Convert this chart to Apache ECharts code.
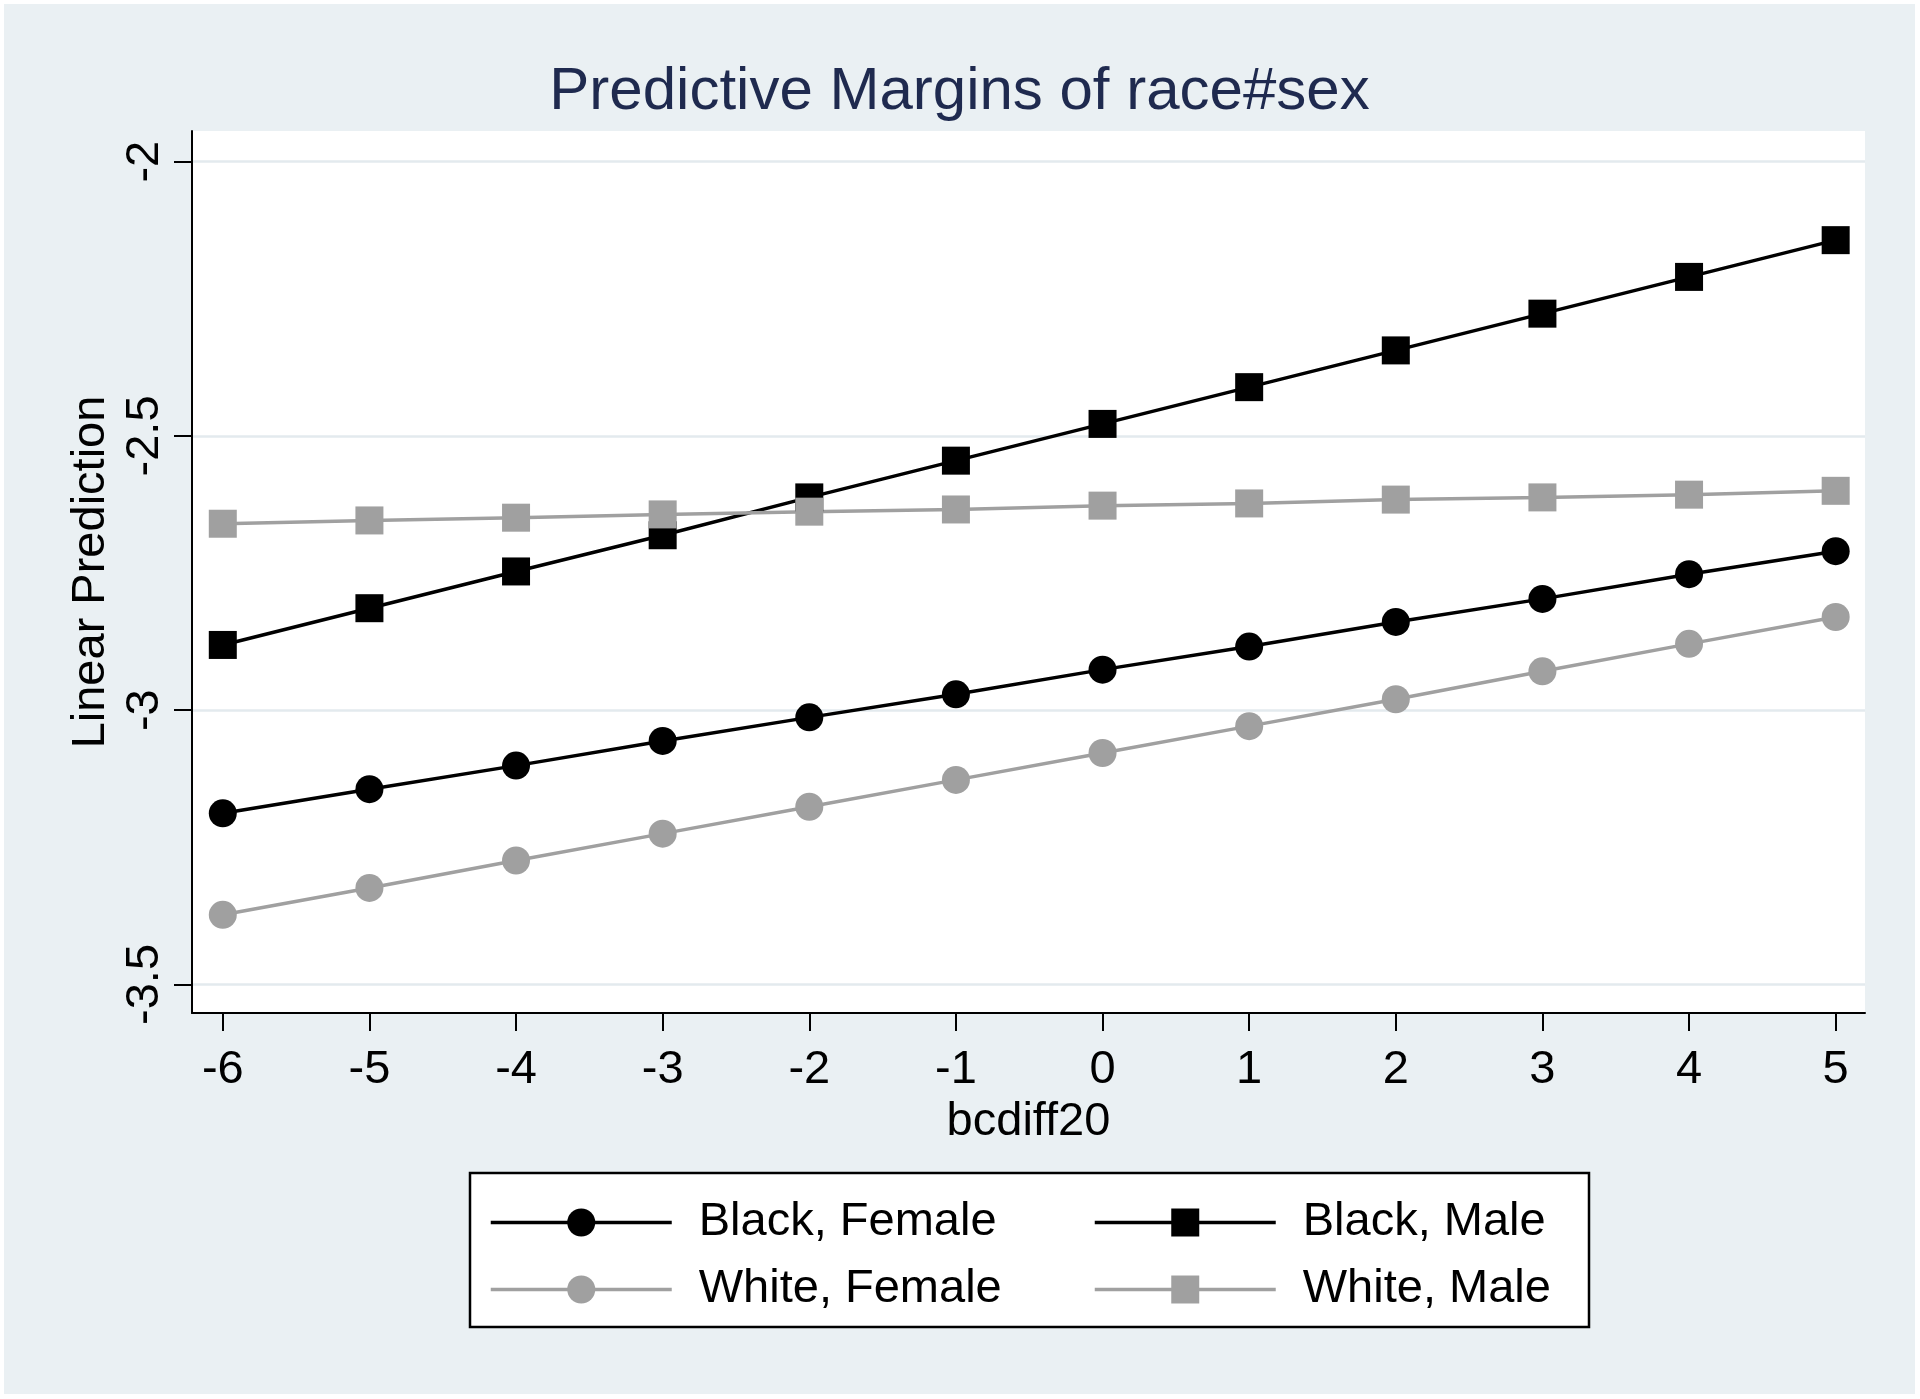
<!DOCTYPE html>
<html>
<head>
<meta charset="utf-8">
<script src="https://cdn.jsdelivr.net/npm/echarts@6/dist/echarts.min.js"></script>
<style>
  html, body { margin: 0; padding: 0; background: #ffffff; }
  #chart { position: absolute; left: 4px; top: 4px; width: 1911px; height: 1390px; }
</style>
</head>
<body>
<div id="chart"></div>
<script>
// ---- data ----
const bcdiff20 = [-6, -5, -4, -3, -2, -1, 0, 1, 2, 3, 4, 5];
const blackFemale = [-3.188, -3.144, -3.101, -3.056, -3.013, -2.971, -2.926, -2.884, -2.839, -2.797, -2.752, -2.710];
const blackMale   = [-2.881, -2.814, -2.747, -2.681, -2.612, -2.545, -2.478, -2.411, -2.344, -2.277, -2.210, -2.143];
const whiteFemale = [-3.373, -3.324, -3.274, -3.225, -3.176, -3.127, -3.078, -3.029, -2.980, -2.929, -2.879, -2.830];
const whiteMale   = [-2.660, -2.654, -2.649, -2.643, -2.638, -2.634, -2.627, -2.623, -2.616, -2.612, -2.607, -2.600];
const yTicks = [-3.5, -3, -2.5, -2];
const seriesNames = ['Black, Female', 'Black, Male', 'White, Female', 'White, Male'];

const FONT = "'Liberation Sans', Arial, Helvetica, sans-serif";
const BLACK = '#000000';
const GRAY = '#a0a0a0';
const BG = '#eaf0f3';
const GRID = '#e3eaee';
const LW = 3.5;

function pairs(vals) { return bcdiff20.map((x, i) => [x, vals[i]]); }

function lineSeries(name, vals, color, symbol) {
  return {
    name: name,
    type: 'line',
    data: pairs(vals),
    symbol: symbol,
    symbolSize: 28,
    showSymbol: true,
    lineStyle: { color: color, width: LW },
    itemStyle: { color: color },
    emphasis: { disabled: true },
    z: 3
  };
}

const chart = echarts.init(document.getElementById('chart'), null, { renderer: 'canvas' });

const legendCommon = {
  orient: 'vertical',
  top: 1195,
  padding: 0,
  itemWidth: 181,
  itemHeight: 35,
  itemGap: 20,
  selectedMode: false,
  lineStyle: { width: LW },
  textStyle: { fontFamily: FONT, fontSize: 47, color: '#000', lineHeight: 47, padding: [0, 0, 0, 22] }
};

chart.setOption({
  animation: false,
  backgroundColor: BG,
  title: {
    text: 'Predictive Margins of race#sex',
    left: 'center',
    top: 58,
    padding: 0,
    textStyle: { fontFamily: FONT, fontSize: 60, fontWeight: 'normal', color: '#1f2a4f' }
  },
  grid: {
    left: 188, top: 127, width: 1673, height: 882,
    show: true, backgroundColor: '#ffffff', borderWidth: 0, containLabel: false
  },
  xAxis: {
    type: 'value',
    min: -6.21,
    max: 5.2,
    name: 'bcdiff20',
    nameLocation: 'middle',
    nameGap: 84,
    nameTextStyle: { fontFamily: FONT, fontSize: 47, color: '#000' },
    axisLine: { show: true, onZero: false, lineStyle: { color: BLACK, width: 2 } },
    axisTick: { show: true, length: 18, lineStyle: { color: BLACK, width: 2 }, customValues: bcdiff20 },
    axisLabel: { fontFamily: FONT, fontSize: 47, color: '#000', margin: 34, customValues: bcdiff20 },
    splitLine: { show: false }
  },
  yAxis: {
    type: 'value',
    min: -3.552,
    max: -1.944,
    name: 'Linear Prediction',
    nameLocation: 'middle',
    nameRotate: 90,
    nameGap: 75,
    nameTextStyle: { fontFamily: FONT, fontSize: 47, color: '#000' },
    axisLine: { show: true, onZero: false, lineStyle: { color: BLACK, width: 2 } },
    axisTick: { show: true, length: 18, lineStyle: { color: BLACK, width: 2 }, customValues: yTicks },
    axisLabel: { fontFamily: FONT, fontSize: 47, color: '#000', margin: 23, rotate: 90, customValues: yTicks },
    splitLine: { show: true, lineStyle: { color: GRID, width: 2.5 } }
  },
  legend: [
    Object.assign({}, legendCommon, { left: 485, data: [seriesNames[0], seriesNames[2]] }),
    Object.assign({}, legendCommon, { left: 1089, data: [seriesNames[1], seriesNames[3]] })
  ],
  graphic: [{
    type: 'rect',
    shape: { x: 466, y: 1169, width: 1119, height: 154 },
    style: { fill: '#ffffff', stroke: '#000000', lineWidth: 2.5 },
    z: 0,
    silent: true
  }],
  series: [
    lineSeries(seriesNames[0], blackFemale, BLACK, 'circle'),
    lineSeries(seriesNames[1], blackMale, BLACK, 'rect'),
    lineSeries(seriesNames[2], whiteFemale, GRAY, 'circle'),
    lineSeries(seriesNames[3], whiteMale, GRAY, 'rect')
  ]
});
</script>
</body>
</html>
